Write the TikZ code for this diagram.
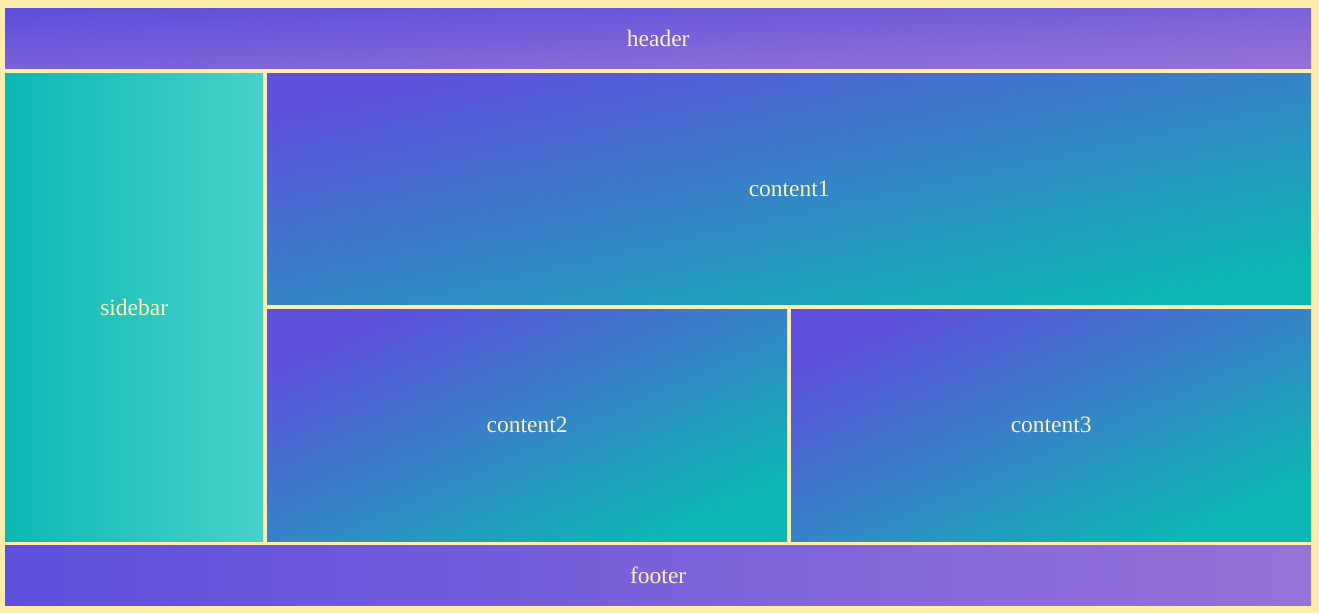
\documentclass[tikz,border=0pt]{standalone}
\usepackage{fontspec}
\setmainfont{Liberation Serif}
\usepackage{tikz}
\definecolor{pagebg}{HTML}{FFEDAB}
\definecolor{labeltxt}{HTML}{FFF0B4}
\definecolor{mpurple}{HTML}{5E50DC}
\definecolor{mlilac}{HTML}{9672D8}
\definecolor{mteal}{HTML}{0CB8B3}
\definecolor{mturq}{HTML}{48D2CB}
% corner to corner gradients, turned so the middle colour runs along the other diagonal
\pgfdeclarehorizontalshading{purplediag}{100bp}{color(0bp)=(mpurple); color(25bp)=(mpurple); color(75bp)=(mlilac); color(100bp)=(mlilac)}
\pgfdeclarehorizontalshading{contentdiag}{100bp}{color(0bp)=(mpurple); color(25bp)=(mpurple); color(75bp)=(mteal); color(100bp)=(mteal)}
\tikzset{tile/.style = {inner sep = 0, anchor = north west, text = labeltxt,
                        font = \fontsize{23.5}{28}\selectfont}}
\tikzset{diagtile/.style 2 args = {tile, shading = #1, shading angle = #2}}
\begin{document}
\begin{tikzpicture}[x=1pt, y=-1pt]
    \useasboundingbox [fill=pagebg] (0, 0) rectangle (1319, 613);

    \node [diagtile={purplediag}{-87.37}, minimum width=1306, minimum height=60] (header) at (5, 8) {header};
    \node [tile, left color=mteal, right color=mturq, minimum width=258, minimum height=468] (sidebar) at (5, 73) {sidebar};
    \node [diagtile={contentdiag}{-77.52}, minimum width=1044, minimum height=231] (content1) at (267, 73) {content1};
    \node [diagtile={contentdiag}{-65.95}, minimum width=520, minimum height=232] (content2) at (267, 309) {content2};
    \node [diagtile={contentdiag}{-65.95}, minimum width=520, minimum height=232] (content3) at (791, 309) {content3};
    \node [tile, left color=mpurple, right color=mlilac, minimum width=1306, minimum height=60] (footer) at (5, 545) {footer};
  \end{tikzpicture}
\end{document}
